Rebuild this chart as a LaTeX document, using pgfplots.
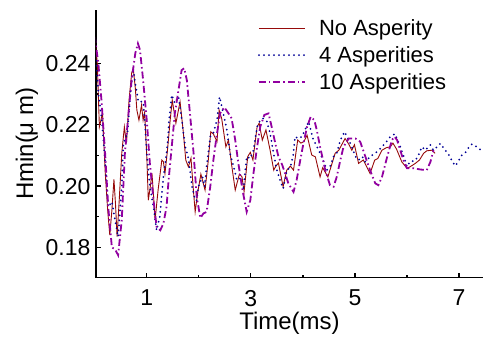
\documentclass[border=0pt]{standalone}
\usepackage{pgfplots}
\pgfplotsset{compat=1.18}
\usepackage{pgfplotstable}
\usepackage{fontspec}
\setmainfont{Liberation Sans}
\definecolor{cred}{RGB}{150,10,10}
\definecolor{cblue}{RGB}{0,0,150}
\definecolor{cpurp}{RGB}{145,0,160}
\pgfplotstableread{
x y
0.00 0.249
0.05 0.240
0.09 0.2193
0.15 0.2238
0.20 0.205
0.25 0.192
0.29 0.184
0.33 0.192
0.37 0.2022
0.40 0.194
0.43 0.1835
0.47 0.195
0.52 0.2107
0.57 0.2193
0.61 0.2139
0.66 0.228
0.71 0.2368
0.74 0.2384
0.78 0.232
0.81 0.2248
0.85 0.2215
0.90 0.2264
0.93 0.2215
0.96 0.224
1.00 0.210
1.03 0.1954
1.07 0.200
1.10 0.2042
1.13 0.197
1.16 0.189
1.22 0.199
1.29 0.2085
1.32 0.208
1.35 0.2041
1.40 0.212
1.45 0.2215
1.49 0.228
1.56 0.2205
1.64 0.2275
1.70 0.218
1.75 0.2085
1.80 0.2063
1.85 0.2091
1.89 0.200
1.93 0.1916
1.98 0.198
2.04 0.2039
2.12 0.1987
2.18 0.208
2.23 0.2177
2.28 0.2170
2.35 0.2145
2.39 0.2248
2.44 0.2220
2.52 0.2128
2.57 0.215
2.63 0.207
2.70 0.1987
2.78 0.2039
2.83 0.2030
2.87 0.1982
2.94 0.2096
2.99 0.2110
3.04 0.2085
3.12 0.2193
3.16 0.2205
3.22 0.215
3.29 0.2183
3.37 0.2117
3.44 0.2052
3.48 0.2065
3.53 0.2075
3.62 0.1998
3.69 0.2052
3.76 0.2065
3.82 0.2052
3.90 0.215
3.96 0.2140
4.02 0.2145
4.08 0.2166
4.17 0.2101
4.24 0.2095
4.33 0.203
4.38 0.2060
4.48 0.203
4.62 0.2107
4.69 0.2117
4.81 0.2155
4.87 0.2140
4.94 0.2117
4.99 0.2135
5.07 0.2074
5.16 0.2085
5.22 0.2065
5.29 0.2041
5.38 0.2085
5.44 0.2090
5.52 0.2117
5.60 0.2125
5.68 0.2128
5.73 0.2140
5.80 0.2120
5.90 0.2079
6.00 0.2058
6.06 0.2063
6.16 0.2074
6.24 0.2085
6.32 0.2107
6.38 0.2115
6.48 0.2117
6.54 0.2107
}\noasp
\pgfplotstableread{
x y
0.00 0.249
0.07 0.2302
0.13 0.2226
0.20 0.2085
0.26 0.1932
0.33 0.1949
0.38 0.190
0.45 0.1835
0.52 0.1998
0.55 0.2139
0.63 0.2172
0.69 0.2313
0.74 0.2384
0.79 0.2324
0.84 0.2275
0.93 0.2275
0.96 0.222
1.00 0.2107
1.06 0.1998
1.13 0.1932
1.19 0.1856
1.25 0.190
1.32 0.203
1.39 0.212
1.43 0.2215
1.48 0.2297
1.54 0.227
1.61 0.2291
1.67 0.222
1.74 0.2128
1.80 0.209
1.87 0.1998
1.93 0.1954
1.96 0.1954
1.99 0.1998
2.07 0.203
2.11 0.1998
2.15 0.2063
2.22 0.2161
2.28 0.2172
2.35 0.2215
2.40 0.2291
2.47 0.2237
2.54 0.2183
2.60 0.2107
2.67 0.2063
2.73 0.202
2.79 0.2025
2.86 0.1992
2.92 0.2096
2.99 0.2090
3.05 0.2117
3.12 0.2193
3.18 0.2215
3.24 0.2221
3.31 0.2210
3.37 0.2172
3.43 0.2112
3.50 0.2052
3.56 0.202
3.62 0.1992
3.69 0.2050
3.76 0.2063
3.81 0.2096
3.85 0.2161
3.91 0.2155
3.98 0.2161
4.04 0.2183
4.11 0.221
4.20 0.215
4.24 0.2139
4.33 0.2107
4.40 0.2080
4.46 0.2052
4.52 0.2063
4.59 0.2096
4.65 0.2107
4.72 0.215
4.80 0.2177
4.88 0.2150
4.94 0.2128
5.01 0.2096
5.07 0.2085
5.14 0.2096
5.20 0.2079
5.29 0.2096
5.39 0.2107
5.49 0.2123
5.58 0.2139
5.68 0.2161
5.77 0.2170
5.87 0.2128
5.93 0.2101
6.00 0.2063
6.06 0.2080
6.16 0.2083
6.22 0.2101
6.29 0.2128
6.35 0.2117
6.45 0.2134
6.51 0.2117
6.64 0.2139
6.72 0.2120
6.80 0.2103
6.87 0.2080
6.93 0.2066
7.00 0.2085
7.05 0.2100
7.12 0.2109
7.18 0.2125
7.25 0.2137
7.32 0.2130
7.40 0.2120
7.46 0.2107
}\fourasp
\pgfplotstableread{
x y
0.00 0.249
0.07 0.240
0.13 0.228
0.20 0.2107
0.26 0.1932
0.33 0.180
0.39 0.1794
0.45 0.1775
0.52 0.189
0.58 0.2107
0.65 0.2237
0.71 0.2346
0.78 0.2433
0.83 0.2465
0.87 0.2444
0.93 0.2346
1.00 0.2215
1.06 0.2074
1.13 0.1954
1.19 0.1867
1.26 0.1856
1.32 0.1878
1.38 0.1932
1.42 0.202
1.48 0.2128
1.54 0.2237
1.61 0.2313
1.67 0.2378
1.72 0.2384
1.77 0.2346
1.83 0.2237
1.90 0.2107
1.96 0.1965
2.03 0.1896
2.09 0.1911
2.15 0.1916
2.22 0.1998
2.28 0.2085
2.35 0.2172
2.41 0.2237
2.49 0.2257
2.57 0.2237
2.63 0.2221
2.70 0.215
2.76 0.2074
2.84 0.1987
2.92 0.1916
2.99 0.1954
3.05 0.2041
3.12 0.2128
3.18 0.2193
3.26 0.2232
3.34 0.2237
3.40 0.2193
3.47 0.2139
3.53 0.2096
3.60 0.2070
3.66 0.2041
3.72 0.2009
3.82 0.1981
3.88 0.202
3.95 0.2085
4.01 0.2139
4.08 0.2193
4.15 0.2226
4.22 0.2215
4.27 0.2180
4.33 0.2128
4.43 0.2052
4.52 0.2003
4.59 0.1998
4.65 0.203
4.72 0.2085
4.78 0.2128
4.88 0.2155
5.01 0.2155
5.10 0.2145
5.20 0.2096
5.29 0.2052
5.39 0.2009
5.45 0.2003
5.52 0.203
5.62 0.2096
5.71 0.215
5.76 0.2161
5.81 0.215
5.87 0.2117
5.93 0.2085
6.00 0.2058
6.13 0.2058
6.26 0.2054
6.38 0.2052
6.45 0.2079
6.51 0.2117
}\tenasp
\begin{document}
\begin{tikzpicture}
\begin{axis}[
  at={(0pt,0pt)}, anchor=south west,
  scale only axis, width=387pt, height=267.5pt,
  xmin=0.025, xmax=7.46, ymin=0.1702, ymax=0.2574,
  axis lines*=left,
  axis line style={line width=1.6pt},
  separate axis lines,
  tick align=inside,
  xtick={1,3,5,7}, minor xtick={2,4,6},
  ytick={0.18,0.20,0.22,0.24}, minor ytick={0.19,0.21,0.23},
  yticklabels={0.18,0.20,0.22,0.24},
  major tick length=5pt, minor tick length=3pt,
  tick style={line width=1.2pt, black},
  ticklabel style={font=\fontsize{23}{27}\selectfont},
  xticklabel style={yshift=-9pt},
  yticklabel style={xshift=-2pt},
  /pgf/number format/assume math mode=true,
  xlabel={Time(ms)}, ylabel={Hmin(μ m)},
  label style={font=\fontsize{24}{28}\selectfont},
  xlabel style={at={(axis description cs:0.5,0)}, anchor=center, yshift=-45.5pt},
  ylabel style={at={(axis description cs:0,0.5)}, anchor=center, yshift=69pt},
  legend style={draw=none, fill=none, at={(0.41,1.0)}, anchor=north west,
    yshift=-4.5pt,
    font=\fontsize{22}{26}\selectfont, row sep=3.3pt,
    nodes={inner sep=3pt},
    /tikz/every odd column/.append style={column sep=10pt}},
  legend cell align=left,
  legend image code/.code={\draw[#1] (0pt,0pt) -- (46pt,0pt);},
]
\addplot[color=cred, line width=0.9pt, forget plot] table {\noasp};
\addplot[color=cblue, line width=2pt, line cap=round, dash pattern=on 0pt off 5pt, forget plot] table {\fourasp};
\addplot[color=cpurp, line width=1.8pt, dash pattern=on 7pt off 3pt on 1.5pt off 3pt, forget plot] table {\tenasp};
\addlegendimage{draw=cred, line width=1.8pt}
\addlegendentry{No Asperity}
\addlegendimage{draw=cblue, line width=2pt, line cap=round, dash pattern=on 0pt off 5pt}
\addlegendentry{4 Asperities}
\addlegendimage{draw=cpurp, line width=2.2pt, dash pattern=on 7pt off 3pt on 1.5pt off 3pt}
\addlegendentry{10 Asperities}
\end{axis}
\pgfresetboundingbox
\path[use as bounding box] (-96pt,-60.5pt) rectangle (387pt,277.5pt);
\end{tikzpicture}
\end{document}
